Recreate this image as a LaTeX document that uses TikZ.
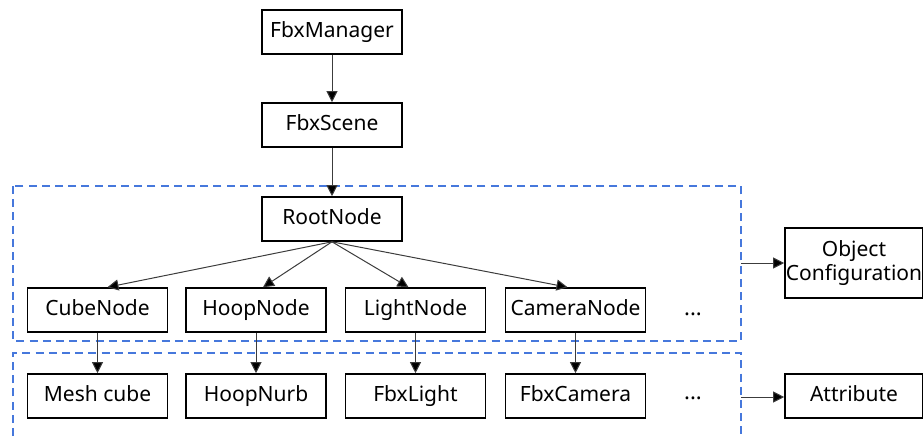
\documentclass[tikz,border=0pt]{standalone}
\usepackage{fontspec}
\setmainfont{Noto Sans}
\usetikzlibrary{arrows.meta}
\definecolor{dashblue}{RGB}{70,120,220}
\definecolor{arrgray}{RGB}{60,60,60}
\begin{document}
\begin{tikzpicture}[x=0.5pt,y=-0.5pt,
  box/.style={draw=black,line width=0.8pt,minimum width=70pt,minimum height=22pt,inner sep=0pt,
    text height=7.6pt,text depth=2.2pt,
    font=\fontsize{10.5}{10.5}\selectfont,fill=white},
  conn/.style={draw=arrgray,line width=0.5pt,-{Triangle[length=5.5pt,width=5.5pt,fill=black]}},
  group/.style={draw=dashblue,line width=0.75pt,dash pattern=on 4pt off 2.6pt},
  dotsnode/.style={inner sep=0pt,font=\fontsize{11}{11}\selectfont}]
\useasboundingbox (0,0) rectangle (923,436);
% dashed groups
\draw[group] (13,186) rectangle (741,341);
\draw[group] (13,436) -- (13,353) -- (741,353) -- (741,436);
% top chain
\node[box] (mgr) at (332,32) {FbxManager};
\node[box] (scene) at (332,125) {FbxScene};
\node[box] (root) at (332,219) {RootNode};
% row 1
\node[box] (cube) at (97.5,310) {CubeNode};
\node[box] (hoop) at (256,310) {HoopNode};
\node[box] (light) at (415.5,310) {LightNode};
\node[box] (cam) at (575.5,310) {CameraNode};
\node[dotsnode] (d1) at (693,314) {\textbf{...}};
% row 2
\node[box] (mesh) at (97.5,396) {Mesh cube};
\node[box] (nurb) at (256,396) {HoopNurb};
\node[box] (flight) at (415.5,396) {FbxLight};
\node[box] (fcam) at (575.5,396) {FbxCamera};
\node[dotsnode] (d2) at (693,398) {\textbf{...}};
% right side
\node[box,minimum width=69pt,minimum height=35pt,align=center,text height=,text depth=] (obj) at (854,263) {Object\\Configuration};
\node[box,minimum width=69pt] (attr) at (854,396) {Attribute};
\coordinate (g1) at (741,263);
\coordinate (g2) at (741,397);
% connectors
\draw[conn] (mgr) -- (scene);
\draw[conn] (scene) -- (root);
\draw[conn] (root.south) -- ([xshift=5pt]cube.north);
\draw[conn] (root.south) -- ([xshift=3.5pt]hoop.north);
\draw[conn] (root.south) -- ([xshift=-3.5pt]light.north);
\draw[conn] (root.south) -- ([xshift=-4pt]cam.north);
\draw[conn] (cube) -- (mesh);
\draw[conn] (hoop) -- (nurb);
\draw[conn] (light) -- (flight);
\draw[conn] (cam) -- (fcam);
\draw[conn] (g1) -- (g1 -| obj.west);
\draw[conn] (g2) -- (g2 -| attr.west);
\end{tikzpicture}
\end{document}
